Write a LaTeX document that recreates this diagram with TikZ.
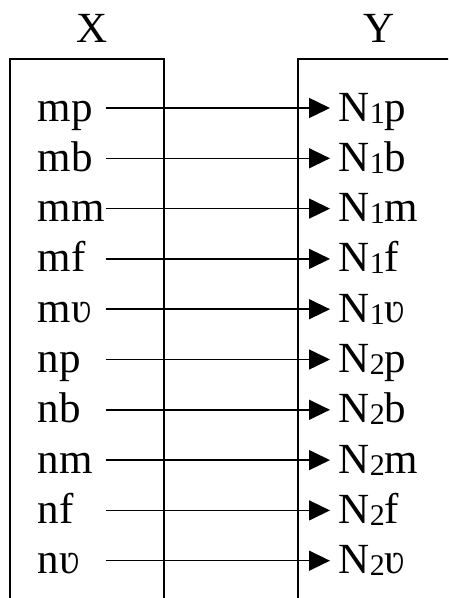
\documentclass[tikz,border=0pt]{standalone}
\usepackage{fontspec}
\setmainfont{Liberation Serif}
\usetikzlibrary{arrows.meta}
\newcommand\idx[1]{\raisebox{-2pt}{\fontsize{30}{30}\selectfont #1}}
\begin{document}
\begin{tikzpicture}[x=1pt,y=-1pt,font=\fontsize{43}{43}\selectfont,line width=1.5pt,
  lbl/.style={inner sep=0pt,text height=30pt,text depth=4pt},
  map/.style={-{Triangle[length=21pt,width=20pt]}}]
  \useasboundingbox (0,0) rectangle (448,598);
  \clip (0,0) rectangle (448,598);
  % the two sets
  \draw (10,610) -- (10,59) -- (164,59) -- (164,610);
  \draw (298,610) -- (298,59) -- (460,59);
  \node[lbl] (setX) at (92.5,29) {X};
  \node[lbl] (setY) at (379,29) {Y};
  % the pairs
  \foreach \src/\n/\tgt [count=\i] in {mp/1/p,mb/1/b,mm/1/m,mf/1/f,mʋ/1/ʋ,
      np/2/p,nb/2/b,nm/2/m,nf/2/f,nʋ/2/ʋ}{
    \node[lbl,anchor=west,text width=67pt,align=left] (l\i) at (37,{108+50.3*(\i-1)}) {\src};
    \node[lbl,anchor=west,inner xsep=8pt] (r\i) at (330,{108+50.3*(\i-1)}) {N\idx{\n}\tgt};
    \draw[map] (l\i.east) -- (r\i.west);}
\end{tikzpicture}
\end{document}
